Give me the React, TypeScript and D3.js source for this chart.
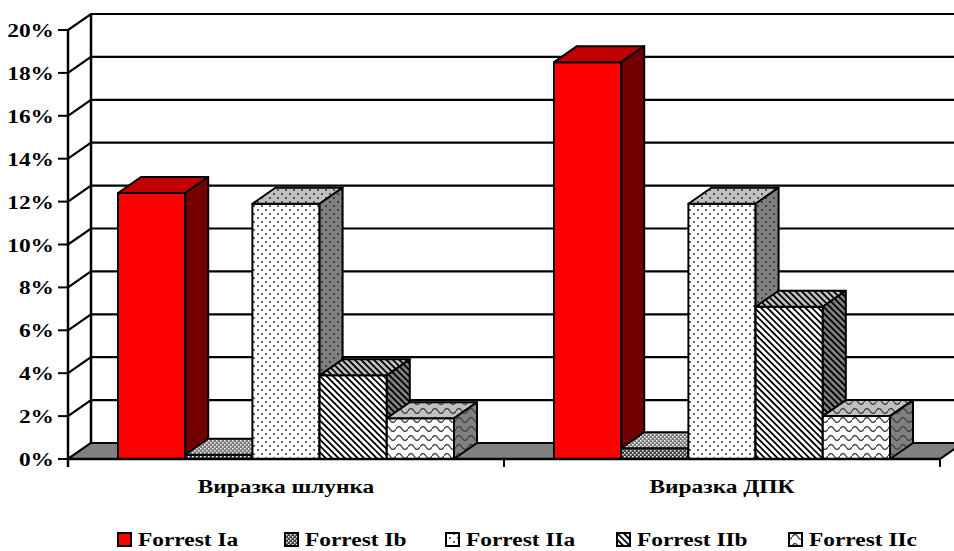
import * as d3 from "d3";

const categories = ["Виразка шлунка", "Виразка ДПК"];
const series = ["Forrest Ia", "Forrest Ib", "Forrest IIa", "Forrest IIb", "Forrest IIc"];
// values in %, one array per series, order follows categories
const forrestIa = [12.4, 18.5];
const forrestIb = [0.2, 0.5];
const forrestIIa = [11.9, 11.9];
const forrestIIb = [3.9, 7.1];
const forrestIIc = [1.9, 2.0];
const yTicks = [0, 2, 4, 6, 8, 10, 12, 14, 16, 18, 20];

const seriesValues = [forrestIa, forrestIb, forrestIIa, forrestIIb, forrestIIc];
const patternIds = ["ia", "ib", "iia", "iib", "iic"];

const W = 954;
const H = 551;
const left = 68;
const right = 940;
const bottom = 459;
const top = 30;
const dx = 23;
const dy = -16;
const FONT = "Liberation Serif";
const STRETCH = 1.2;

// background colors for front / top / side faces
const faceBg = { front: "#ffffff", top: "#c0c0c0", side: "#808080" };
const redFaces = { front: "#ff0000", top: "#c00000", side: "#730000" };

function Patterns() {
  const faces = ["front", "top", "side"] as const;
  return (
    <defs>
      {faces.map((f) => (
        <g key={f}>
          <pattern id={`ib-${f}`} width={4} height={4} patternUnits="userSpaceOnUse">
            <rect width={4} height={4} fill={f === "front" ? "#404040" : f === "top" ? "#7a7a7a" : "#606060"} />
            <rect x={0} y={0} width={1.5} height={1.5} fill="#ffffff" />
            <rect x={2} y={2} width={1.5} height={1.5} fill="#ffffff" />
          </pattern>
          <pattern id={`iia-${f}`} width={8} height={8} patternUnits="userSpaceOnUse">
            <rect width={8} height={8} fill={faceBg[f]} />
            <circle cx={2} cy={2} r={0.9} fill="#222" />
            <circle cx={6} cy={6} r={0.9} fill="#222" />
          </pattern>
          <pattern
            id={`iib-${f}`}
            width={4.5}
            height={5}
            patternUnits="userSpaceOnUse"
            patternTransform="rotate(-45)"
          >
            <rect width={4.5} height={5} fill={faceBg[f]} />
            <rect x={0} y={0} width={1.8} height={5} fill="#000" />
          </pattern>
          <pattern id={`iic-${f}`} width={12} height={9} patternUnits="userSpaceOnUse">
            <rect width={12} height={9} fill={faceBg[f]} />
            <path d="M0 6 Q3 1 6 6 T12 6" fill="none" stroke="#444" strokeWidth={1.4} />
          </pattern>
        </g>
      ))}
    </defs>
  );
}

function faceFill(si: number, face: "front" | "top" | "side") {
  if (si === 0) return redFaces[face];
  return `url(#${patternIds[si]}-${face})`;
}

function SText({ x, y, anchor, children }: { x: number; y: number; anchor: string; children: string }) {
  return (
    <text
      transform={`translate(${x},${y}) scale(${STRETCH},1)`}
      textAnchor={anchor}
      fontFamily={FONT}
      fontWeight="bold"
      fontSize={19.5}
      fill="#000"
    >
      {children}
    </text>
  );
}

export default function App() {
  const y = d3.scaleLinear().domain([0, 20]).range([bottom, top]);
  const x0 = d3.scaleBand<string>().domain(categories).range([left, right]).paddingInner(0).paddingOuter(0);
  const x1 = d3
    .scaleBand<string>()
    .domain(series)
    .range([0, x0.bandwidth()])
    .paddingInner(0)
    .paddingOuter(0.744);

  const pts = (p: [number, number][]) => p.map((d) => d.join(",")).join(" ");

  const bars: JSX.Element[] = [];
  categories.forEach((c, ci) => {
    series.forEach((s, si) => {
      const v = seriesValues[si][ci];
      const xa = x0(c)! + x1(s)!;
      const xb = xa + x1.bandwidth();
      const yt = y(v);
      const yb = y(0);
      const stroke = { stroke: "#000", strokeWidth: 2, strokeLinejoin: "round" as const };
      bars.push(
        <g key={`${c}-${s}`}>
          <polygon points={pts([[xa, yb], [xb, yb], [xb, yt], [xa, yt]])} fill={faceFill(si, "front")} {...stroke} />
          <polygon
            points={pts([[xa, yt], [xb, yt], [xb + dx, yt + dy], [xa + dx, yt + dy]])}
            fill={faceFill(si, "top")}
            {...stroke}
          />
          <polygon
            points={pts([[xb, yt], [xb + dx, yt + dy], [xb + dx, yb + dy], [xb, yb]])}
            fill={faceFill(si, "side")}
            {...stroke}
          />
        </g>
      );
    });
  });

  const legendX = [118, 285, 446, 617, 789];

  return (
    <svg
      width={W}
      height={H}
      style={{ position: "absolute", left: 0, top: 0, background: "#fff" }}
    >
      <Patterns />
      {/* walls */}
      <rect x={left + dx} y={top + dy} width={right - left} height={bottom - top} fill="#fff" />
      {yTicks.map((t) => (
        <polyline
          key={t}
          points={pts([[left, y(t)], [left + dx, y(t) + dy], [W + 20, y(t) + dy]])}
          fill="none"
          stroke="#000"
          strokeWidth={2.2}
        />
      ))}
      <line x1={left + dx} x2={left + dx} y1={top + dy} y2={bottom + dy} stroke="#000" strokeWidth={2.5} />
      {/* floor */}
      <polygon
        points={pts([[left, bottom], [right, bottom], [right + dx, bottom + dy], [left + dx, bottom + dy]])}
        fill="#808080"
        stroke="#000"
        strokeWidth={2}
      />
      {bars}
      {/* y axis */}
      <line x1={left} x2={left} y1={top} y2={bottom + 8} stroke="#000" strokeWidth={2.5} />
      {yTicks.map((t) => (
        <g key={t}>
          <line x1={left - 10} x2={left} y1={y(t)} y2={y(t)} stroke="#000" strokeWidth={2} />
          <SText x={54} y={y(t) + 7} anchor="end">{`${t}%`}</SText>
        </g>
      ))}
      {/* x axis */}
      <line x1={left} x2={right} y1={bottom} y2={bottom} stroke="#000" strokeWidth={2.5} />
      {[...categories.map((c) => x0(c)!), right].map((xv, i) => (
        <line key={i} x1={xv} x2={xv} y1={bottom} y2={bottom + 8} stroke="#000" strokeWidth={2} />
      ))}
      {categories.map((c) => (
        <SText key={c} x={x0(c)! + x0.bandwidth() / 2} y={493} anchor="middle">
          {c}
        </SText>
      ))}
      {/* legend */}
      {series.map((s, si) => (
        <g key={s}>
          <rect
            x={legendX[si]}
            y={533}
            width={13}
            height={13}
            fill={faceFill(si, "front")}
            stroke="#000"
            strokeWidth={2}
          />
          <SText x={legendX[si] + 20} y={546} anchor="start">
            {s}
          </SText>
        </g>
      ))}
    </svg>
  );
}
